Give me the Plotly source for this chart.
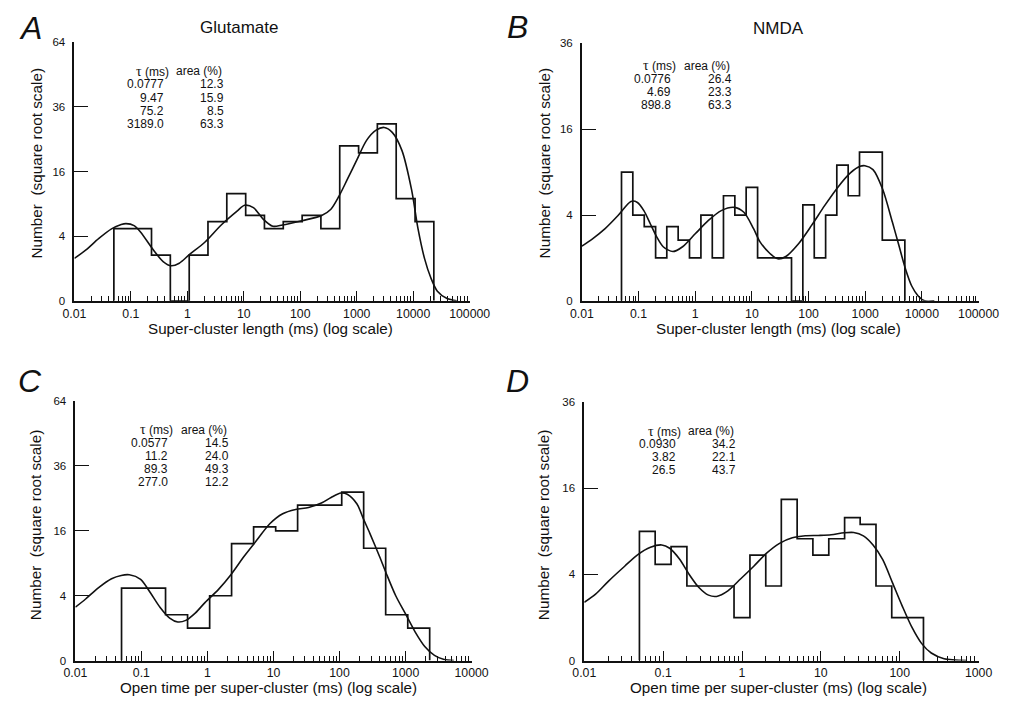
import numpy as np
import plotly.graph_objects as go

W, H = 1017, 702
FONT = "Liberation Sans, Arial, sans-serif"
INK = "#111111"

# ---------------- data ----------------
# Panel A: Glutamate, super-cluster length
A_edges = [0.05, 0.108, 0.232, 0.5, 1.08, 2.32, 5, 10.8, 23.2, 50, 108, 232, 500,
           1080, 2320, 5000, 10800, 23200]
A_counts = [5, 5, 2, 0, 2, 6, 11, 7, 5, 6, 7, 5, 23, 21, 30, 10, 6]
A_fit_x = [0.01, 0.0158, 0.0268, 0.0454, 0.0674, 0.082, 0.114, 0.148, 0.251, 0.373,
           0.518, 0.72, 1.07, 2.06, 3.98, 7.69, 10.3, 14.8, 22.0, 32.7,
           48.5, 107, 235, 349, 485, 674, 1000, 1484, 2203, 3060,
           4253, 6310, 9355, 12190, 15850, 20600, 26800, 39800, 59000]
A_fit_y = [1.73, 2.46, 3.70, 4.96, 5.57, 5.71, 5.43, 4.54, 2.47, 1.48,
           1.18, 1.36, 2.02, 3.32, 5.52, 7.76, 8.76, 8.33, 6.41, 5.33,
           5.52, 6.16, 6.93, 8.04, 10.5, 14.0, 18.96, 24.6, 27.9, 28.8,
           27.2, 21.7, 11.85, 4.96, 1.73, 0.50, 0.09, 0.005, 0]
A_tau = ["0.0777", "9.47", "75.2", "3189.0"]
A_area = ["12.3", "15.9", "8.5", "63.3"]

# Panel B: NMDA, super-cluster length
B_edges = [0.05, 0.0792, 0.126, 0.2, 0.315, 0.5, 0.792, 1.26, 2, 3.15, 5, 7.92, 12.6,
           20, 31.5, 50, 79.2, 126, 200, 315, 500, 792, 1260, 2000, 3150, 5000]
B_counts = [9, 4, 3, 1, 3, 2, 1, 4, 1, 6, 4, 7, 1, 1, 1, 0, 5, 1, 4, 10, 6, 12, 12, 2, 2]
B_fit_x = [0.01, 0.0152, 0.0257, 0.0434, 0.0734, 0.0955, 0.124, 0.161, 0.209, 0.272,
           0.404, 0.598, 1.01, 1.71, 2.88, 4.88, 7.22, 10.7, 13.9, 20.6,
           28.6, 39.7, 67.1, 113, 192, 324, 547, 811, 986, 1370,
           2030, 3010, 3910, 5080, 6610, 8590, 11170, 16560]
B_fit_y = [1.63, 2.07, 2.83, 3.95, 5.37, 5.26, 4.42, 3.23, 2.22, 1.59,
           1.32, 1.59, 2.46, 3.51, 4.42, 4.75, 4.26, 2.83, 1.89, 1.23,
           0.96, 1.07, 1.79, 3.09, 4.92, 6.96, 8.89, 9.83, 9.92, 9.35,
           6.76, 3.37, 1.69, 0.58, 0.12, 0.013, 0, 0]
B_tau = ["0.0776", "4.69", "898.8"]
B_area = ["26.4", "23.3", "63.3"]

# Panel C: Glutamate, open time per super-cluster
C_edges = [0.05, 0.108, 0.232, 0.5, 1.08, 2.32, 5, 10.8, 23.2, 50, 108, 232, 500, 1080, 2320]
C_counts = [5, 5, 2, 1, 4, 13, 17, 16, 23, 23, 27, 12, 2, 1]
C_fit_x = [0.01, 0.0143, 0.0225, 0.0353, 0.0494, 0.0656, 0.0973, 0.136, 0.191, 0.268,
           0.355, 0.47, 0.659, 0.924, 1.45, 2.28, 3.57, 5.6, 8.79, 13.8,
           21.6, 34.0, 53.2, 74.6, 105, 131, 184, 230, 288, 404,
           506, 710, 995, 1394, 1954, 2740, 3840, 5380]
C_fit_y = [2.71, 3.61, 5.07, 6.38, 6.90, 7.0, 6.28, 4.41, 2.71, 1.72,
           1.42, 1.54, 2.17, 3.23, 4.76, 7.06, 10.3, 13.8, 17.8, 20.5,
           21.7, 22.3, 23.6, 25.3, 26.7, 26.3, 23.3, 19.1, 15.4, 10.3,
           7.33, 4.0, 2.09, 0.79, 0.19, 0.026, 0.001, 0]
C_tau = ["0.0577", "11.2", "89.3", "277.0"]
C_area = ["14.5", "24.0", "49.3", "12.2"]

# Panel D: NMDA, open time per super-cluster
D_edges = [0.05, 0.0792, 0.126, 0.2, 0.315, 0.5, 0.792, 1.26, 2, 3.15, 5, 7.92, 12.6,
           20, 31.5, 50, 79.2, 126, 200]
D_counts = [9, 5, 7, 3, 3, 3, 1, 6, 3, 14, 8, 6, 8, 11, 10, 3, 1, 1]
D_fit_x = [0.01, 0.0139, 0.0203, 0.0325, 0.0473, 0.069, 0.096, 0.121, 0.161, 0.214,
           0.284, 0.376, 0.476, 0.662, 0.964, 1.41, 2.05, 2.99, 4.35, 6.35,
           9.25, 13.5, 19.7, 26.1, 34.6, 45.9, 60.9, 80.8, 107, 142,
           189, 251, 365, 706]
D_fit_y = [1.83, 2.38, 3.41, 4.80, 6.03, 6.92, 7.21, 6.80, 5.56, 4.0,
           2.88, 2.31, 2.22, 2.62, 3.61, 4.80, 6.22, 7.41, 8.13, 8.39,
           8.44, 8.53, 8.80, 8.84, 8.39, 7.21, 5.49, 3.28, 1.63, 0.61,
           0.16, 0.031, 0.002, 0]
D_tau = ["0.0930", "3.82", "26.5"]
D_area = ["34.2", "22.1", "43.7"]

# tick labels
X_TICKS_AB = ["0.01", "0.1", "1", "10", "100", "1000", "10000", "100000"]
X_TICKS_C = ["0.01", "0.1", "1", "10", "100", "1000", "10000"]
X_TICKS_D = ["0.01", "0.1", "1", "10", "100", "1000"]
Y_TICKS_64 = ["0", "4", "16", "36", "64"]
Y_TICKS_36 = ["0", "4", "16", "36"]

X_TITLE_1 = "Super-cluster length (ms) (log scale)"
X_TITLE_2 = "Open time per super-cluster (ms) (log scale)"
Y_TITLE = "Number\u00a0 (square root scale)"

# ---------------- layout (pixel geometry) ----------------
panels = [
    dict(letter="A", title="Glutamate", edges=A_edges, counts=A_counts, fx=A_fit_x, fy=A_fit_y,
         tau=A_tau, area=A_area, xt=X_TICKS_AB, yt=Y_TICKS_64, xtitle=X_TITLE_1,
         xpx=(64.5, 473), ypx=(37, 300), letter_xy=(19, 22), title_xy=(235, 22),
         ytitle_xy=(25, 160), xtitle_xy=(267, 328), tab=(159, 221, 66.5)),
    dict(letter="B", title="NMDA", edges=B_edges, counts=B_counts, fx=B_fit_x, fy=B_fit_y,
         tau=B_tau, area=B_area, xt=X_TICKS_AB, yt=Y_TICKS_36, xtitle=X_TITLE_1,
         xpx=(589, 999), ypx=(38, 300), letter_xy=(522, 21), title_xy=(792, 23),
         ytitle_xy=(550, 160), xtitle_xy=(792, 328), tab=(683, 746, 61)),
    dict(letter="C", title=None, edges=C_edges, counts=C_counts, fx=C_fit_x, fy=C_fit_y,
         tau=C_tau, area=C_area, xt=X_TICKS_C, yt=Y_TICKS_64, xtitle=X_TITLE_2,
         xpx=(65.5, 475), ypx=(402, 666), letter_xy=(19, 382), title_xy=None,
         ytitle_xy=(25, 528), xtitle_xy=(265, 693), tab=(163, 226, 431)),
    dict(letter="D", title=None, edges=D_edges, counts=D_counts, fx=D_fit_x, fy=D_fit_y,
         tau=D_tau, area=D_area, xt=X_TICKS_D, yt=Y_TICKS_36, xtitle=X_TITLE_2,
         xpx=(591.5, 999), ypx=(403, 666), letter_xy=(522, 382), title_xy=None,
         ytitle_xy=(550, 528), xtitle_xy=(792, 693), tab=(688, 750, 432.5)),
]


def px(x):
    return x / W


def py(y):
    return 1 - y / H


fig = go.Figure()
annotations = []
layout_axes = {}

for i, p in enumerate(panels, start=1):
    xa = "x" if i == 1 else f"x{i}"
    ya = "y" if i == 1 else f"y{i}"
    xkey = "xaxis" if i == 1 else f"xaxis{i}"
    ykey = "yaxis" if i == 1 else f"yaxis{i}"

    # histogram outline as a step path built from edges/counts
    hx = [p["edges"][0]] + list(p["edges"])
    hy = [0] + list(p["counts"]) + [0]
    fig.add_trace(go.Scatter(x=hx, y=np.sqrt(hy), mode="lines", line_shape="hv",
                             line=dict(color=INK, width=1.7), xaxis=xa, yaxis=ya,
                             showlegend=False, hoverinfo="skip"))
    # fitted curve
    fig.add_trace(go.Scatter(x=p["fx"], y=np.sqrt(p["fy"]), mode="lines",
                             line=dict(color=INK, width=1.6, shape="spline", smoothing=0.8),
                             xaxis=xa, yaxis=ya, showlegend=False, hoverinfo="skip"))

    ndec = len(p["xt"]) - 1
    xtv = [10.0 ** (k - 2) for k in range(len(p["xt"]))]
    ytv = [np.sqrt(float(v)) for v in p["yt"]]
    layout_axes[xkey] = dict(
        type="log", range=[-2, -2 + ndec], domain=[px(p["xpx"][0]), px(p["xpx"][1])],
        anchor=ya, showline=True, linecolor=INK, linewidth=1.8, showgrid=False,
        zeroline=False, ticks="inside", ticklen=10, tickwidth=1.4, tickcolor=INK,
        tickmode="array", tickvals=xtv, ticktext=p["xt"],
        tickfont=dict(family=FONT, size=12.3, color=INK),
        minor=dict(ticks="inside", ticklen=5, tickwidth=1.1, tickcolor=INK,
                   dtick="D1", showgrid=False),
    )
    layout_axes[ykey] = dict(
        range=[0, ytv[-1]], domain=[py(p["ypx"][1]), py(p["ypx"][0])],
        anchor=xa, showline=True, linecolor=INK, linewidth=1.8, showgrid=False,
        zeroline=False, ticks="inside", ticklen=14, tickwidth=1.4, tickcolor=INK,
        tickmode="array", tickvals=ytv, ticktext=p["yt"],
        tickfont=dict(family=FONT, size=11.5, color=INK), ticklabelstandoff=5,
    )

    # panel letter
    lx, ly = p["letter_xy"]
    annotations.append(dict(x=px(lx), y=py(ly), xref="paper", yref="paper",
                            text=f"<i>{p['letter']}</i>", showarrow=False,
                            xanchor="center", yanchor="middle",
                            font=dict(family=FONT, size=32, color=INK)))
    if p["title"]:
        tx, ty = p["title_xy"]
        annotations.append(dict(x=px(tx), y=py(ty), xref="paper", yref="paper",
                                text=p["title"], showarrow=False, xanchor="center",
                                yanchor="middle", font=dict(family=FONT, size=17, color=INK)))
    # axis titles
    yx, yy = p["ytitle_xy"]
    annotations.append(dict(x=px(yx), y=py(yy), xref="paper", yref="paper",
                            text=Y_TITLE, textangle=-90, showarrow=False,
                            xanchor="center", yanchor="middle",
                            font=dict(family=FONT, size=15.3, color=INK)))
    xx, xy = p["xtitle_xy"]
    annotations.append(dict(x=px(xx), y=py(xy), xref="paper", yref="paper",
                            text=p["xtitle"], showarrow=False,
                            xanchor="center", yanchor="middle",
                            font=dict(family=FONT, size=15.2, color=INK)))
    # parameter table
    tr, ar, y0 = p["tab"]
    dy = 13.3
    tfont = dict(family=FONT, size=12, color=INK)
    annotations.append(dict(x=px(tr + 5), y=py(y0), xref="paper", yref="paper",
                            text='<span style="font-family:Liberation Serif;font-size:14px">\u03c4</span> (ms)',
                            showarrow=False, xanchor="right", yanchor="middle", font=tfont))
    annotations.append(dict(x=px(ar - 2), y=py(y0), xref="paper", yref="paper",
                            text="area (%)", showarrow=False, xanchor="right",
                            yanchor="middle", font=tfont))
    for r, (tv, av) in enumerate(zip(p["tau"], p["area"]), start=1):
        annotations.append(dict(x=px(tr), y=py(y0 + r * dy), xref="paper", yref="paper",
                                text=tv, showarrow=False, xanchor="right",
                                yanchor="middle", font=tfont))
        annotations.append(dict(x=px(ar), y=py(y0 + r * dy), xref="paper", yref="paper",
                                text=av, showarrow=False, xanchor="right",
                                yanchor="middle", font=tfont))

fig.update_layout(
    width=W, height=H, margin=dict(l=0, r=0, t=0, b=0),
    paper_bgcolor="white", plot_bgcolor="white",
    font=dict(family=FONT, color=INK), showlegend=False,
    annotations=annotations, **layout_axes,
)

fig.write_html("out.html")
